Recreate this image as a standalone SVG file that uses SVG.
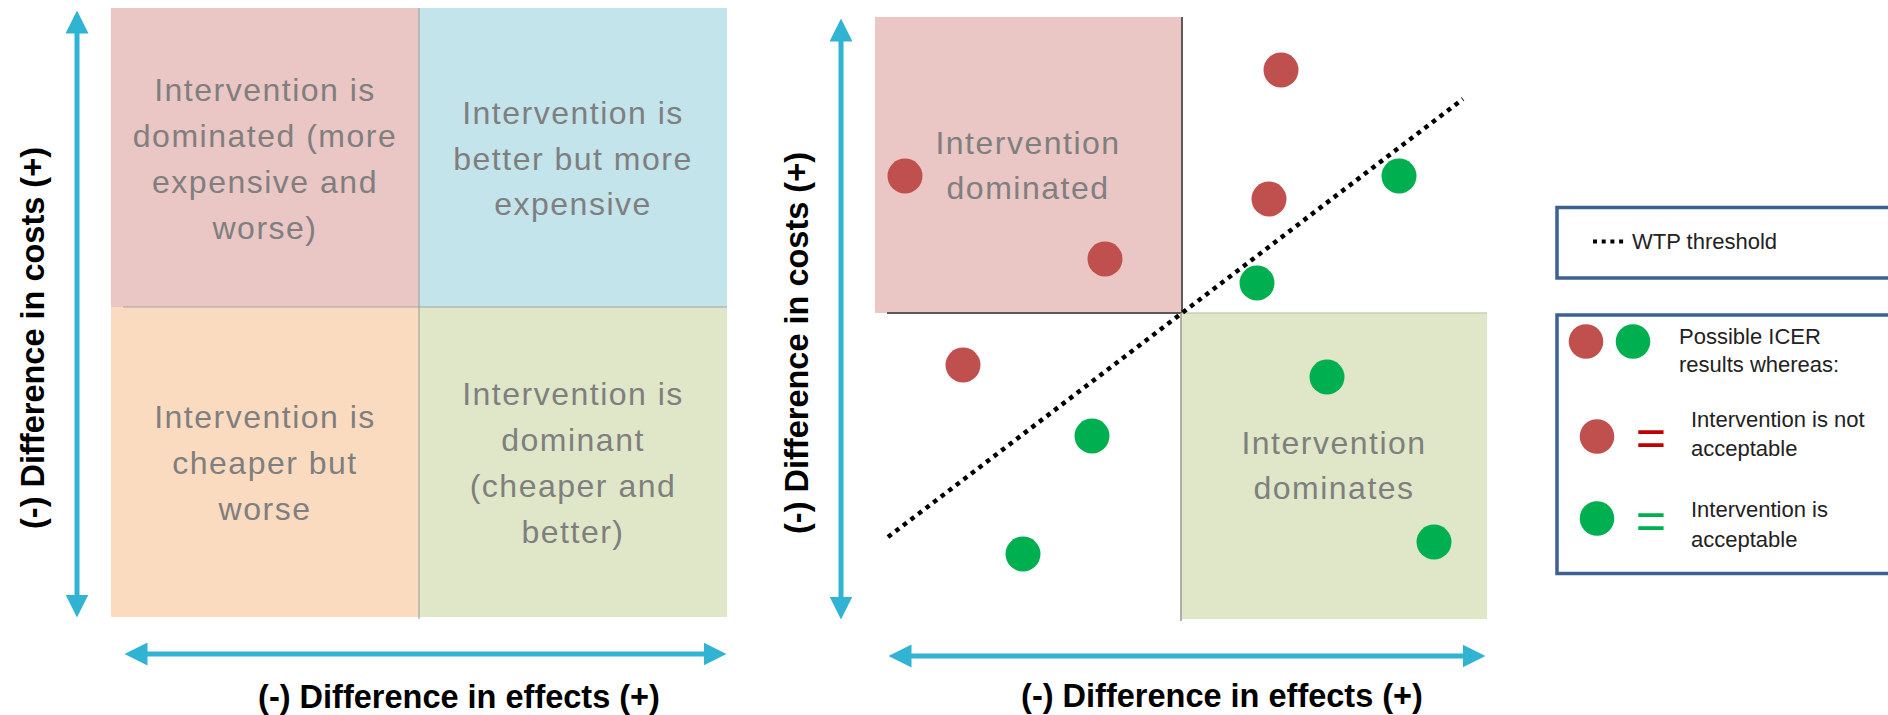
<svg xmlns="http://www.w3.org/2000/svg" width="1888" height="715" viewBox="0 0 1888 715">
<defs>
<style>
.q{font-family:"Liberation Sans",Arial,sans-serif;font-size:32px;letter-spacing:1.5px;fill:#7f7f7f;text-anchor:middle}
.ax{font-family:"Liberation Sans",Arial,sans-serif;font-size:32.5px;font-weight:bold;fill:#000;text-anchor:middle}
.lg{font-family:"Liberation Sans",Arial,sans-serif;font-size:22px;fill:#222}
.eq{font-family:"Liberation Sans",Arial,sans-serif;font-size:52px;text-anchor:middle}
.arrow{stroke:#31b4d4;stroke-width:5;fill:none;marker-start:url(#ah);marker-end:url(#ah)}
.red{fill:#c0504d}
.grn{fill:#00b050}
.box{fill:#fff;stroke:#3e6192;stroke-width:3.5}
</style>
<marker id="ah" viewBox="0 0 23 23" refX="0.5" refY="11.5" markerWidth="23" markerHeight="23" markerUnits="userSpaceOnUse" orient="auto-start-reverse">
<path d="M0,0 L23,11.5 L0,23 Z" fill="#31b4d4"/>
</marker>
</defs>
<rect width="1888" height="715" fill="#fff"/>

<!-- Left quadrant chart -->
<g id="q-dominated">
<rect x="111" y="8" width="308" height="299" fill="#eac6c5"/>
<text class="q" x="265" y="101">Intervention is</text>
<text class="q" x="265" y="147">dominated (more</text>
<text class="q" x="265" y="193">expensive and</text>
<text class="q" x="265" y="239">worse)</text>
</g>
<g id="q-better-expensive">
<rect x="419" y="8" width="308" height="299" fill="#c3e4ea"/>
<text class="q" x="573" y="124">Intervention is</text>
<text class="q" x="573" y="170">better but more</text>
<text class="q" x="573" y="215">expensive</text>
</g>
<g id="q-cheaper-worse">
<rect x="111" y="307" width="308" height="310" fill="#fbdbc0"/>
<text class="q" x="265" y="428">Intervention is</text>
<text class="q" x="265" y="474">cheaper but</text>
<text class="q" x="265" y="520">worse</text>
</g>
<g id="q-dominant">
<rect x="419" y="307" width="308" height="310" fill="#dfe7c8"/>
<text class="q" x="573" y="405">Intervention is</text>
<text class="q" x="573" y="451">dominant</text>
<text class="q" x="573" y="497">(cheaper and</text>
<text class="q" x="573" y="543">better)</text>
</g>
<g id="left-dividers" stroke="#a3a3a0" stroke-width="1.2">
<line x1="123" y1="307" x2="727" y2="307"/>
<line x1="419" y1="8" x2="419" y2="619"/>
</g>
<g id="left-labels">
<text class="ax" transform="translate(44,338) rotate(-90)">(-) Difference in costs (+)</text>
<text class="ax" x="459" y="708">(-) Difference in effects (+)</text>
</g>

<!-- Right ICER plane -->
<g id="r-dominated">
<rect x="875" y="17" width="307" height="296" fill="#eac6c5"/>
<path d="M1182,17 V313 H887" fill="none" stroke="#5a5a5a" stroke-width="2"/>
<text class="q" x="1028" y="154">Intervention</text>
<text class="q" x="1028" y="199">dominated</text>
</g>
<g id="r-dominates">
<rect x="1181" y="313" width="306" height="306" fill="#dfe7c8"/>
<line x1="1182" y1="313" x2="1487" y2="313" stroke="#c9d0b4" stroke-width="1.5"/>
<line x1="1181" y1="313" x2="1181" y2="621" stroke="#9a9a90" stroke-width="1.5"/>
<text class="q" x="1334" y="454">Intervention</text>
<text class="q" x="1334" y="499">dominates</text>
</g>
<g id="r-labels">
<text class="ax" transform="translate(808,343) rotate(-90)">(-) Difference in costs (+)</text>
<text class="ax" x="1222" y="707">(-) Difference in effects (+)</text>
</g>

<g id="connectors">
<line class="arrow" x1="77" y1="595" x2="77" y2="33"/>
<line class="arrow" x1="147" y1="654" x2="704" y2="654"/>
<line class="arrow" x1="841" y1="597" x2="841" y2="41"/>
<line class="arrow" x1="911" y1="656" x2="1463" y2="656"/>
<line id="wtp-line" x1="888" y1="537" x2="1463" y2="99" stroke="#000" stroke-width="4.5" stroke-dasharray="4.5 5"/>
</g>

<g id="icer-points">
<circle class="red" cx="1281" cy="70" r="17.5"/>
<circle class="red" cx="905" cy="176" r="17.5"/>
<circle class="red" cx="1105" cy="259" r="17.5"/>
<circle class="red" cx="1269" cy="199" r="17.5"/>
<circle class="red" cx="963" cy="365" r="17.5"/>
<circle class="grn" cx="1399" cy="176" r="17.5"/>
<circle class="grn" cx="1257" cy="283" r="17.5"/>
<circle class="grn" cx="1327" cy="377" r="17.5"/>
<circle class="grn" cx="1092" cy="436" r="17.5"/>
<circle class="grn" cx="1023" cy="554" r="17.5"/>
<circle class="grn" cx="1434" cy="542" r="17.5"/>
</g>

<!-- Legend -->
<g id="legend-wtp">
<rect class="box" x="1557" y="207.5" width="340" height="70.5"/>
<line x1="1593" y1="241.5" x2="1626" y2="241.5" stroke="#000" stroke-width="4" stroke-dasharray="4 4.7"/>
<text class="lg" x="1632" y="249">WTP threshold</text>
</g>
<g id="legend-icer">
<rect class="box" x="1557" y="315" width="340" height="258.5"/>
<circle class="red" cx="1586" cy="341.5" r="17.3"/>
<circle class="grn" cx="1633" cy="341.5" r="17.3"/>
<text class="lg" x="1679" y="344">Possible ICER</text>
<text class="lg" x="1679" y="372">results whereas:</text>
<circle class="red" cx="1597" cy="436.5" r="17.3"/>
<text class="eq" x="1651" y="456" fill="#c00000">=</text>
<text class="lg" x="1691" y="427">Intervention is not</text>
<text class="lg" x="1691" y="456">acceptable</text>
<circle class="grn" cx="1597" cy="518.5" r="17.3"/>
<text class="eq" x="1651" y="539" fill="#00b050">=</text>
<text class="lg" x="1691" y="517">Intervention is</text>
<text class="lg" x="1691" y="547">acceptable</text>
</g>
</svg>
